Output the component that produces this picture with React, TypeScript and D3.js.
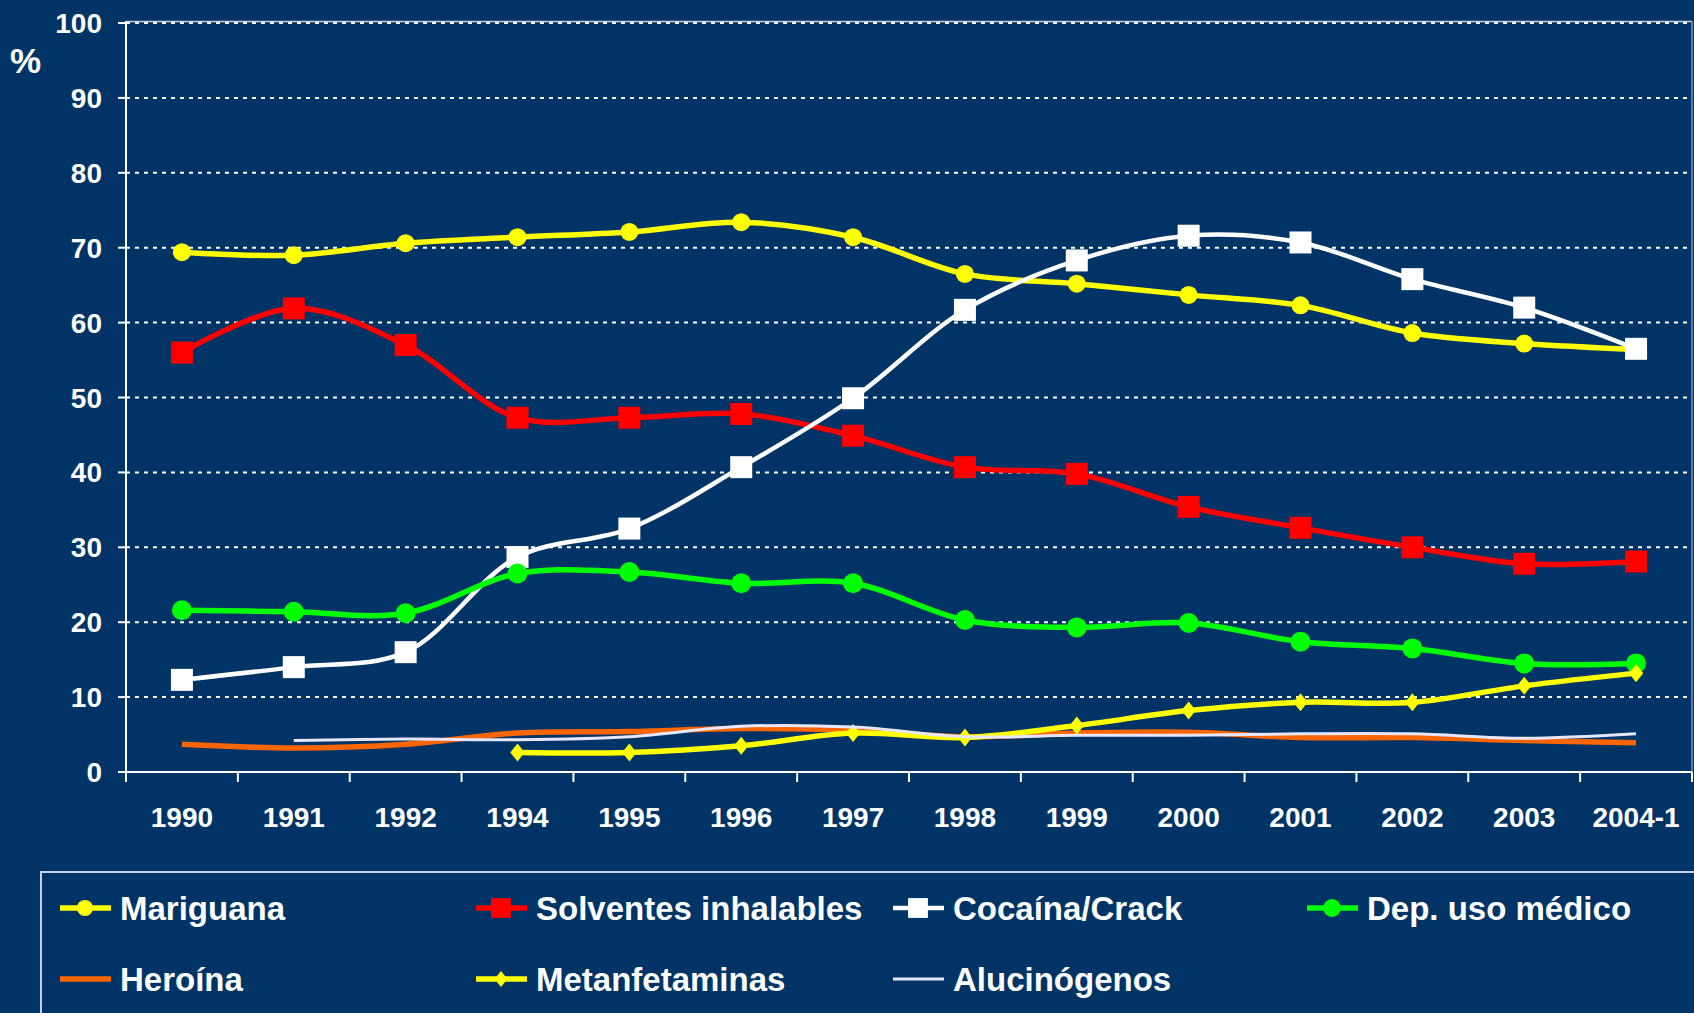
import React from "react";
import * as d3 from "d3";

const categories = ["1990", "1991", "1992", "1994", "1995", "1996", "1997", "1998", "1999", "2000", "2001", "2002", "2003", "2004-1"];
const yTicks = [0, 10, 20, 30, 40, 50, 60, 70, 80, 90, 100];

const mariguana = [69.4, 69.0, 70.6, 71.4, 72.1, 73.4, 71.4, 66.5, 65.2, 63.7, 62.3, 58.6, 57.2, 56.4];
const solventes = [56.0, 61.9, 57.0, 47.3, 47.3, 47.8, 44.9, 40.7, 39.8, 35.4, 32.6, 30.0, 27.8, 28.1];
const cocaina = [12.3, 14.0, 16.0, 28.7, 32.5, 40.7, 49.9, 61.7, 68.3, 71.6, 70.7, 65.8, 62.0, 56.5];
const depMedico = [21.6, 21.4, 21.2, 26.5, 26.7, 25.2, 25.2, 20.3, 19.3, 19.9, 17.4, 16.5, 14.5, 14.5];
const heroina = [3.7, 3.2, 3.7, 5.2, 5.4, 5.8, 5.6, 4.7, 5.2, 5.3, 4.6, 4.6, 4.2, 3.9];
const metanfetaminas: (number | null)[] = [null, null, null, 2.6, 2.6, 3.5, 5.2, 4.6, 6.2, 8.2, 9.3, 9.3, 11.5, 13.2];
const alucinogenos: (number | null)[] = [null, 4.2, 4.4, 4.3, 4.7, 6.1, 6.0, 4.7, 4.9, 4.9, 5.1, 5.1, 4.5, 5.1];

type Marker = "circle" | "square" | "diamond" | "none";
interface Series { name: string; values: (number | null)[]; color: string; width: number; marker: Marker; size: number; }

const seriesList: Series[] = [
  { name: "Mariguana", values: mariguana, color: "#FFFF00", width: 5.5, marker: "circle", size: 18 },
  { name: "Solventes inhalables", values: solventes, color: "#FF0000", width: 5.5, marker: "square", size: 22 },
  { name: "Cocaína/Crack", values: cocaina, color: "#FFFFFF", width: 4.5, marker: "square", size: 22 },
  { name: "Dep. uso médico", values: depMedico, color: "#00FF00", width: 5.5, marker: "circle", size: 20 },
  { name: "Heroína", values: heroina, color: "#FF6600", width: 5.5, marker: "none", size: 0 },
  { name: "Metanfetaminas", values: metanfetaminas, color: "#FFFF00", width: 5.5, marker: "diamond", size: 18 },
  { name: "Alucinógenos", values: alucinogenos, color: "#E6E6FF", width: 3, marker: "none", size: 0 },
];

const W = 1694, H = 1013;
const BG = "#003366";
const FONT = "'Liberation Sans', Arial, sans-serif";
const left = 126, right = 1692, top = 23, bottom = 772;

function MarkerShape({ type, cx, cy, size, color }: { type: Marker; cx: number; cy: number; size: number; color: string }) {
  if (type === "circle") return <circle cx={cx} cy={cy} r={size / 2} fill={color} />;
  if (type === "square") return <rect x={cx - size / 2} y={cy - size / 2} width={size} height={size} fill={color} />;
  if (type === "diamond") {
    const w = size * 0.4, h = size / 2;
    return <path d={`M${cx},${cy - h}L${cx + w},${cy}L${cx},${cy + h}L${cx - w},${cy}Z`} fill={color} />;
  }
  return null;
}

export default function App() {
  const x = d3.scaleBand<string>().domain(categories).range([left, right]).padding(0);
  const y = d3.scaleLinear().domain([0, 100]).range([bottom, top]);
  const cx = (c: string) => (x(c) as number) + x.bandwidth() / 2;

  const line = d3.line<[string, number | null]>()
    .defined((d) => d[1] !== null)
    .x((d) => cx(d[0]))
    .y((d) => y(d[1] as number))
    .curve(d3.curveCatmullRom.alpha(0.5));

  const legendCols = [60, 476, 893, 1307];
  const legendRows = [908, 979];

  return (
    <svg width={W} height={H} style={{ position: "fixed", left: 0, top: 0, display: "block" }} fontFamily={FONT}>
      <rect x={0} y={0} width={W} height={H} fill={BG} />
      {yTicks.filter((t) => t > 0).map((t) => (
        <line key={t} x1={left} x2={right} y1={y(t)} y2={y(t)} stroke="#FFFFFF" strokeWidth={2} strokeDasharray="4 5" />
      ))}
      <line x1={left} x2={right} y1={top - 1.5} y2={top - 1.5} stroke="#C8D0E0" strokeWidth={1.5} />
      <line x1={right} x2={right} y1={top - 2} y2={bottom} stroke="#8090B0" strokeWidth={1.5} />
      <line x1={left} x2={left} y1={top - 2} y2={bottom} stroke="#FFFFFF" strokeWidth={2} />
      {yTicks.map((t) => (
        <g key={t}>
          <line x1={left - 8} x2={left} y1={y(t)} y2={y(t)} stroke="#FFFFFF" strokeWidth={2} />
          <text x={102} y={y(t)} dy="0.36em" textAnchor="end" fill="#FFFFFF" fontSize={28} fontWeight="bold">{t}</text>
        </g>
      ))}
      <text x={10} y={73} fill="#FFFFFF" fontSize={35} fontWeight="bold">%</text>
      <line x1={left} x2={right} y1={bottom} y2={bottom} stroke="#FFFFFF" strokeWidth={2} />
      {categories.map((c) => (
        <line key={"t" + c} x1={x(c) as number} x2={x(c) as number} y1={bottom} y2={bottom + 10} stroke="#FFFFFF" strokeWidth={2} />
      ))}
      <line x1={right} x2={right} y1={bottom} y2={bottom + 10} stroke="#FFFFFF" strokeWidth={2} />
      {categories.map((c) => (
        <text key={c} x={cx(c)} y={817} dy="0.36em" textAnchor="middle" fill="#FFFFFF" fontSize={28} fontWeight="bold">{c}</text>
      ))}
      {seriesList.map((s) => {
        const pts = categories.map((c, i) => [c, s.values[i]] as [string, number | null]);
        return (
          <g key={s.name}>
            <path d={line(pts) || ""} fill="none" stroke={s.color} strokeWidth={s.width} strokeLinejoin="round" />
            {pts.filter((p) => p[1] !== null).map((p) => (
              <MarkerShape key={p[0]} type={s.marker} cx={cx(p[0])} cy={y(p[1] as number)} size={s.size} color={s.color} />
            ))}
          </g>
        );
      })}
      <rect x={41} y={872} width={W} height={H} fill="none" stroke="#C8D0E0" strokeWidth={2} />
      {seriesList.map((s, i) => {
        const col = legendCols[i % 4];
        const row = legendRows[Math.floor(i / 4)];
        return (
          <g key={"lg" + s.name}>
            <line x1={col} x2={col + 51} y1={row} y2={row} stroke={s.color} strokeWidth={s.width} />
            <MarkerShape type={s.marker} cx={col + 25} cy={row} size={s.size * 0.9} color={s.color} />
            <text x={col + 60} y={row} dy="0.36em" fill="#FFFFFF" fontSize={33} fontWeight="bold">{s.name}</text>
          </g>
        );
      })}
    </svg>
  );
}
